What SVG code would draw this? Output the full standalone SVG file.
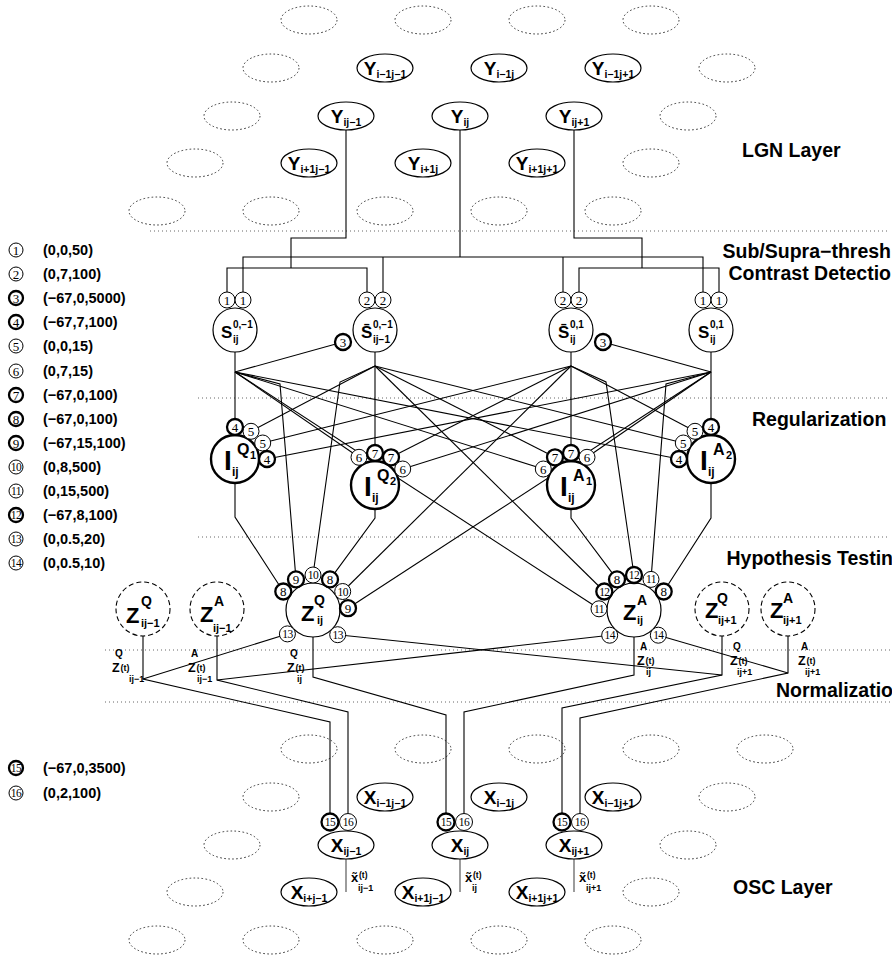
<svg xmlns="http://www.w3.org/2000/svg" width="892" height="958" viewBox="0 0 892 958">
<style>
.ln{stroke:#000;stroke-width:1.1;fill:none}
.gl{stroke:#666;stroke-width:1.3;fill:none}
.sep{stroke:#666;stroke-width:1;stroke-dasharray:1 3;fill:none}
.dot{fill:none;stroke:#333;stroke-width:1;stroke-dasharray:1.6 2.4}
.el{fill:#fff;stroke:#000;stroke-width:1.2}
.nd{fill:#fff;stroke:#000;stroke-width:1.2}
.tk{fill:#fff;stroke:#000;stroke-width:2.4}
.ds{fill:#fff;stroke:#000;stroke-width:1.1;stroke-dasharray:5 3}
.c{fill:#fff;stroke:#000;stroke-width:1}
.ct{fill:#fff;stroke:#000;stroke-width:2.3}
.n{font-family:"Liberation Serif","Times New Roman",serif;font-size:13px;text-anchor:middle}
.n2{font-family:"Liberation Serif","Times New Roman",serif;font-size:11.5px;text-anchor:middle;letter-spacing:-0.6px}
.b{font-family:"Liberation Sans",Arial,Helvetica,sans-serif;font-weight:bold}
.t{font-family:"Liberation Sans",Arial,Helvetica,sans-serif;font-weight:bold;font-size:19.5px}
.lg{font-family:"Liberation Sans",Arial,Helvetica,sans-serif;font-weight:bold;font-size:14.5px}
.yl{font-family:"Liberation Sans",Arial,Helvetica,sans-serif;font-weight:bold;font-size:19px;text-anchor:middle}
</style>

<g id="separators">
<line class="sep" x1="150" y1="231" x2="890" y2="231"/>
<line class="sep" x1="198" y1="398" x2="890" y2="398"/>
<line class="sep" x1="198" y1="537" x2="890" y2="537"/>
<line class="sep" x1="105" y1="650" x2="890" y2="650"/>
<line class="sep" x1="105" y1="702" x2="890" y2="702"/>
</g>

<g id="background-cells">
<ellipse class="dot" cx="309" cy="20" rx="28" ry="14"/>
<ellipse class="dot" cx="423" cy="20" rx="28" ry="14"/>
<ellipse class="dot" cx="537" cy="20" rx="28" ry="14"/>
<ellipse class="dot" cx="651" cy="20" rx="28" ry="14"/>
<ellipse class="dot" cx="271" cy="68" rx="28" ry="14"/>
<ellipse class="dot" cx="727" cy="68" rx="28" ry="14"/>
<ellipse class="dot" cx="232" cy="116" rx="28" ry="14"/>
<ellipse class="dot" cx="688" cy="116" rx="28" ry="14"/>
<ellipse class="dot" cx="195" cy="163" rx="28" ry="14"/>
<ellipse class="dot" cx="651" cy="163" rx="28" ry="14"/>
<ellipse class="dot" cx="157" cy="211" rx="28" ry="14"/>
<ellipse class="dot" cx="271" cy="211" rx="28" ry="14"/>
<ellipse class="dot" cx="385" cy="211" rx="28" ry="14"/>
<ellipse class="dot" cx="499" cy="211" rx="28" ry="14"/>
<ellipse class="dot" cx="613" cy="211" rx="28" ry="14"/>
<ellipse class="dot" cx="309" cy="749" rx="28" ry="14"/>
<ellipse class="dot" cx="423" cy="749" rx="28" ry="14"/>
<ellipse class="dot" cx="537" cy="749" rx="28" ry="14"/>
<ellipse class="dot" cx="651" cy="749" rx="28" ry="14"/>
<ellipse class="dot" cx="765" cy="749" rx="28" ry="14"/>
<ellipse class="dot" cx="271" cy="797" rx="28" ry="14"/>
<ellipse class="dot" cx="727" cy="797" rx="28" ry="14"/>
<ellipse class="dot" cx="232" cy="845" rx="28" ry="14"/>
<ellipse class="dot" cx="688" cy="845" rx="28" ry="14"/>
<ellipse class="dot" cx="195" cy="892" rx="28" ry="14"/>
<ellipse class="dot" cx="651" cy="892" rx="28" ry="14"/>
<ellipse class="dot" cx="157" cy="940" rx="28" ry="14"/>
<ellipse class="dot" cx="271" cy="940" rx="28" ry="14"/>
<ellipse class="dot" cx="385" cy="940" rx="28" ry="14"/>
<ellipse class="dot" cx="499" cy="940" rx="28" ry="14"/>
<ellipse class="dot" cx="613" cy="940" rx="28" ry="14"/>
</g>

<g id="connectors">
<path class="ln" d="M346 130V238H291V268"/>
<path class="ln" d="M227 292V268H367V292"/>
<path class="ln" d="M460 130V257"/>
<path class="ln" d="M243 292V257H703V292"/>
<path class="ln" d="M383 257V292"/>
<path class="ln" d="M563 257V292"/>
<path class="ln" d="M574 130V238H642V268"/>
<path class="ln" d="M579 292V268H719V292"/>
<path class="ln" d="M235 352V427"/>
<path class="ln" d="M375 352V453"/>
<path class="ln" d="M571 352V453"/>
<path class="ln" d="M711 352V427"/>
<path class="ln" d="M235 372L343 342"/>
<path class="ln" d="M235 372L359 457.3"/>
<path class="ln" d="M235 372L543.3 469"/>
<path class="ln" d="M235 372L679 459"/>
<path class="ln" d="M235 372L280 384L296 579.4"/>
<path class="ln" d="M235 372L599 608.8"/>
<path class="ln" d="M375 366L251 431.3"/>
<path class="ln" d="M375 366L555 457.3"/>
<path class="ln" d="M375 366L683.3 443"/>
<path class="ln" d="M375 366L340 382L313 575"/>
<path class="ln" d="M375 366L604.3 591.5"/>
<path class="ln" d="M571 366L695 431.3"/>
<path class="ln" d="M571 366L391 457.3"/>
<path class="ln" d="M571 366L262.7 443"/>
<path class="ln" d="M571 366L606 382L634 575"/>
<path class="ln" d="M571 366L342.7 591.5"/>
<path class="ln" d="M711 372L603 342"/>
<path class="ln" d="M711 372L587 457.3"/>
<path class="ln" d="M711 372L402.7 469"/>
<path class="ln" d="M711 372L267 459"/>
<path class="ln" d="M711 372L666 384L651 579.4"/>
<path class="ln" d="M711 372L348 608.2"/>
<path class="ln" d="M235 483V517L283.3 591.5"/>
<path class="ln" d="M375 509V518L330 579.4"/>
<path class="ln" d="M571 509V518L617 579.4"/>
<path class="ln" d="M711 483V518L663.7 591.5"/>
<path class="ln" d="M143 636V679L330 722V813"/>
<path class="ln" d="M143 679L287.4 633.9"/>
<path class="ln" d="M217 636V680L348 712V813"/>
<path class="ln" d="M217 680L609.7 635.2"/>
<path class="ln" d="M313 637V677L446 715V813"/>
<path class="ln" d="M634 637V675L464 712V813"/>
<path class="ln" d="M722 636V675L562 708V813"/>
<path class="ln" d="M722 675L337.7 634.7"/>
<path class="ln" d="M788 636V673L580 718V813"/>
<path class="ln" d="M788 673L658.3 635.2"/>
<path class="gl" d="M346 859V892"/>
<path class="gl" d="M460 859V892"/>
<path class="gl" d="M574 859V892"/>
</g>

<g id="Y_i-1j-1"><ellipse class="el" cx="385" cy="68" rx="28" ry="14"/><text class="yl" x="385" y="75">Y<tspan font-size="10.5" dy="3">i−1j−1</tspan></text></g>
<g id="Y_i-1j"><ellipse class="el" cx="499" cy="68" rx="28" ry="14"/><text class="yl" x="499" y="75">Y<tspan font-size="10.5" dy="3">i−1j</tspan></text></g>
<g id="Y_i-1j+1"><ellipse class="el" cx="613" cy="68" rx="28" ry="14"/><text class="yl" x="613" y="75">Y<tspan font-size="10.5" dy="3">i−1j+1</tspan></text></g>
<g id="Y_ij-1"><ellipse class="el" cx="346" cy="116" rx="28" ry="14"/><text class="yl" x="346" y="123">Y<tspan font-size="10.5" dy="3">ij−1</tspan></text></g>
<g id="Y_ij"><ellipse class="el" cx="460" cy="116" rx="28" ry="14"/><text class="yl" x="460" y="123">Y<tspan font-size="10.5" dy="3">ij</tspan></text></g>
<g id="Y_ij+1"><ellipse class="el" cx="574" cy="116" rx="28" ry="14"/><text class="yl" x="574" y="123">Y<tspan font-size="10.5" dy="3">ij+1</tspan></text></g>
<g id="Y_i+1j-1"><ellipse class="el" cx="309" cy="163" rx="28" ry="14"/><text class="yl" x="309" y="170">Y<tspan font-size="10.5" dy="3">i+1j−1</tspan></text></g>
<g id="Y_i+1j"><ellipse class="el" cx="423" cy="163" rx="28" ry="14"/><text class="yl" x="423" y="170">Y<tspan font-size="10.5" dy="3">i+1j</tspan></text></g>
<g id="Y_i+1j+1"><ellipse class="el" cx="537" cy="163" rx="28" ry="14"/><text class="yl" x="537" y="170">Y<tspan font-size="10.5" dy="3">i+1j+1</tspan></text></g>

<g id="S_ij_0_-1">
<circle class="nd" cx="235" cy="330" r="22"/>
<circle class="c" cx="227" cy="300" r="8"/><text class="n" x="227" y="304.5">1</text>
<circle class="c" cx="243" cy="300" r="8"/><text class="n" x="243" y="304.5">1</text>
<text class="b" x="221" y="338" font-size="17">S</text><text class="b" x="233" y="328" font-size="10">0,−1</text><text class="b" x="233" y="343" font-size="10">ij</text>
</g>
<g id="Sbar_ij-1_0_-1">
<circle class="nd" cx="375" cy="330" r="22"/>
<circle class="c" cx="367" cy="300" r="8"/><text class="n" x="367" y="304.5">2</text>
<circle class="c" cx="383" cy="300" r="8"/><text class="n" x="383" y="304.5">2</text>
<circle class="ct" cx="343" cy="342" r="8"/><text class="n" x="343" y="346.5">3</text>
<text class="b" x="361" y="338" font-size="17">S̄</text><text class="b" x="373" y="328" font-size="10">0,−1</text><text class="b" x="373" y="343" font-size="10">ij−1</text>
</g>
<g id="Sbar_ij_0_1">
<circle class="nd" cx="571" cy="330" r="22"/>
<circle class="c" cx="563" cy="300" r="8"/><text class="n" x="563" y="304.5">2</text>
<circle class="c" cx="579" cy="300" r="8"/><text class="n" x="579" y="304.5">2</text>
<circle class="ct" cx="603" cy="342" r="8"/><text class="n" x="603" y="346.5">3</text>
<text class="b" x="558" y="338" font-size="17">S̄</text><text class="b" x="570" y="328" font-size="10">0,1</text><text class="b" x="570" y="343" font-size="10">ij</text>
</g>
<g id="S_ij_0_1">
<circle class="nd" cx="711" cy="330" r="22"/>
<circle class="c" cx="703" cy="300" r="8"/><text class="n" x="703" y="304.5">1</text>
<circle class="c" cx="719" cy="300" r="8"/><text class="n" x="719" y="304.5">1</text>
<text class="b" x="698" y="338" font-size="17">S</text><text class="b" x="710" y="328" font-size="10">0,1</text><text class="b" x="710" y="343" font-size="10">ij</text>
</g>

<g id="I_Q1">
<circle class="tk" cx="235" cy="459" r="24"/>
<circle class="ct" cx="235" cy="427" r="8"/><text class="n" x="235" y="431.5">4</text>
<circle class="c" cx="251" cy="431.3" r="8"/><text class="n" x="251" y="435.8">5</text>
<circle class="c" cx="262.7" cy="443" r="8"/><text class="n" x="262.7" y="447.5">5</text>
<circle class="ct" cx="267" cy="459" r="8"/><text class="n" x="267" y="463.5">4</text>
<text class="b" x="224" y="470" font-size="28">I</text><text class="b" x="237" y="455" font-size="16">Q</text><text class="b" x="250" y="459" font-size="11">1</text><text class="b" x="232" y="476" font-size="12">ij</text>
</g>
<g id="I_Q2">
<circle class="tk" cx="375" cy="485" r="24"/>
<circle class="c" cx="359" cy="457.3" r="8"/><text class="n" x="359" y="461.8">6</text>
<circle class="ct" cx="375" cy="453" r="8"/><text class="n" x="375" y="457.5">7</text>
<circle class="ct" cx="391" cy="457.3" r="8"/><text class="n" x="391" y="461.8">7</text>
<circle class="c" cx="402.7" cy="469" r="8"/><text class="n" x="402.7" y="473.5">6</text>
<text class="b" x="364" y="496" font-size="28">I</text><text class="b" x="377" y="481" font-size="16">Q</text><text class="b" x="390" y="485" font-size="11">2</text><text class="b" x="372" y="502" font-size="12">ij</text>
</g>
<g id="I_A1">
<circle class="tk" cx="571" cy="485" r="24"/>
<circle class="c" cx="543.3" cy="469" r="8"/><text class="n" x="543.3" y="473.5">6</text>
<circle class="ct" cx="555" cy="457.3" r="8"/><text class="n" x="555" y="461.8">7</text>
<circle class="ct" cx="571" cy="453" r="8"/><text class="n" x="571" y="457.5">7</text>
<circle class="c" cx="587" cy="457.3" r="8"/><text class="n" x="587" y="461.8">6</text>
<text class="b" x="560" y="496" font-size="28">I</text><text class="b" x="573" y="481" font-size="16">A</text><text class="b" x="586" y="485" font-size="11">1</text><text class="b" x="568" y="502" font-size="12">ij</text>
</g>
<g id="I_A2">
<circle class="tk" cx="711" cy="459" r="24"/>
<circle class="ct" cx="711" cy="427" r="8"/><text class="n" x="711" y="431.5">4</text>
<circle class="c" cx="695" cy="431.3" r="8"/><text class="n" x="695" y="435.8">5</text>
<circle class="c" cx="683.3" cy="443" r="8"/><text class="n" x="683.3" y="447.5">5</text>
<circle class="ct" cx="679" cy="459" r="8"/><text class="n" x="679" y="463.5">4</text>
<text class="b" x="700" y="470" font-size="28">I</text><text class="b" x="713" y="455" font-size="16">A</text><text class="b" x="726" y="459" font-size="11">2</text><text class="b" x="708" y="476" font-size="12">ij</text>
</g>

<g id="Z_Q_ij-1"><circle class="ds" cx="143" cy="609" r="27"/><text class="b" x="126" y="623" font-size="22">Z</text><text class="b" x="141" y="606" font-size="14">Q</text><text class="b" x="141" y="627" font-size="11">ij−1</text></g>
<g id="Z_A_ij-1"><circle class="ds" cx="217" cy="609" r="27"/><text class="b" x="200" y="622" font-size="22">Z</text><text class="b" x="214" y="606" font-size="14">A</text><text class="b" x="213" y="632" font-size="11">ij−1</text></g>
<g id="Z_Q_ij">
<circle class="nd" cx="313" cy="610" r="27"/>
<circle class="ct" cx="283.3" cy="591.5" r="8"/><text class="n" x="283.3" y="596">8</text>
<circle class="ct" cx="296" cy="579.4" r="8"/><text class="n" x="296" y="583.9">9</text>
<circle class="c" cx="313" cy="575" r="8"/><text class="n2" x="313" y="579">10</text>
<circle class="ct" cx="330" cy="579.4" r="8"/><text class="n" x="330" y="583.9">8</text>
<circle class="c" cx="342.7" cy="591.5" r="8"/><text class="n2" x="342.7" y="595.5">10</text>
<circle class="ct" cx="348" cy="608.2" r="8"/><text class="n" x="348" y="612.7">9</text>
<circle class="c" cx="287.4" cy="633.9" r="8"/><text class="n2" x="287.4" y="637.9">13</text>
<circle class="c" cx="337.7" cy="634.7" r="8"/><text class="n2" x="337.7" y="638.7">13</text>
<text class="b" x="301" y="621" font-size="22">Z</text><text class="b" x="314" y="605" font-size="14">Q</text><text class="b" x="317" y="624" font-size="11">ij</text>
</g>
<g id="Z_A_ij">
<circle class="nd" cx="634" cy="610" r="27"/>
<circle class="c" cx="599" cy="608.8" r="8"/><text class="n2" x="599" y="612.8">11</text>
<circle class="ct" cx="604.3" cy="591.5" r="8"/><text class="n2" x="604.3" y="595.5">12</text>
<circle class="ct" cx="617" cy="579.4" r="8"/><text class="n" x="617" y="583.9">8</text>
<circle class="ct" cx="634" cy="575" r="8"/><text class="n2" x="634" y="579">12</text>
<circle class="c" cx="651" cy="579.4" r="8"/><text class="n2" x="651" y="583.4">11</text>
<circle class="ct" cx="663.7" cy="591.5" r="8"/><text class="n" x="663.7" y="596">8</text>
<circle class="c" cx="609.7" cy="635.2" r="8"/><text class="n2" x="609.7" y="639.2">14</text>
<circle class="c" cx="658.3" cy="635.2" r="8"/><text class="n2" x="658.3" y="639.2">14</text>
<text class="b" x="623" y="620" font-size="22">Z</text><text class="b" x="637" y="605" font-size="14">A</text><text class="b" x="637" y="624" font-size="11">ij</text>
</g>
<g id="Z_Q_ij+1"><circle class="ds" cx="722" cy="609" r="27"/><text class="b" x="705" y="618" font-size="22">Z</text><text class="b" x="717" y="603" font-size="14">Q</text><text class="b" x="718" y="624" font-size="11">ij+1</text></g>
<g id="Z_A_ij+1"><circle class="ds" cx="788" cy="609" r="27"/><text class="b" x="770" y="618" font-size="22">Z</text><text class="b" x="783" y="603" font-size="14">A</text><text class="b" x="783" y="624" font-size="11">ij+1</text></g>

<g id="z-t-labels" class="b">
<text x="115" y="657" font-size="10">Q</text><text x="112" y="672" font-size="12.5">Z</text><text x="120.5" y="671" font-size="9">(t)</text><text x="129" y="682" font-size="9">ij−1</text>
<text x="191" y="657" font-size="10">A</text><text x="188" y="672" font-size="12.5">Z</text><text x="196.5" y="671" font-size="9">(t)</text><text x="197" y="682" font-size="9">ij−1</text>
<text x="290" y="657" font-size="10">Q</text><text x="287" y="672" font-size="12.5">Z</text><text x="295.5" y="671" font-size="9">(t)</text><text x="297" y="682" font-size="9">ij</text>
<text x="640" y="650" font-size="10">A</text><text x="637" y="665" font-size="12.5">Z</text><text x="645.5" y="664" font-size="9">(t)</text><text x="646" y="675" font-size="9">ij</text>
<text x="733" y="650" font-size="10">Q</text><text x="730" y="665" font-size="12.5">Z</text><text x="738.5" y="664" font-size="9">(t)</text><text x="737" y="675" font-size="9">ij+1</text>
<text x="801" y="650" font-size="10">A</text><text x="798" y="665" font-size="12.5">Z</text><text x="806.5" y="664" font-size="9">(t)</text><text x="805" y="675" font-size="9">ij+1</text>
</g>

<g id="X_i-1j-1"><ellipse class="el" cx="385" cy="797" rx="28" ry="14"/><text class="yl" x="385" y="804">X<tspan font-size="10.5" dy="3">i−1j−1</tspan></text></g>
<g id="X_i-1j"><ellipse class="el" cx="499" cy="797" rx="28" ry="14"/><text class="yl" x="499" y="804">X<tspan font-size="10.5" dy="3">i−1j</tspan></text></g>
<g id="X_i-1j+1"><ellipse class="el" cx="613" cy="797" rx="28" ry="14"/><text class="yl" x="613" y="804">X<tspan font-size="10.5" dy="3">i−1j+1</tspan></text></g>
<g id="X_ij-1">
<ellipse class="el" cx="346" cy="845" rx="28" ry="14"/><text class="yl" x="346" y="852">X<tspan font-size="10.5" dy="3">ij−1</tspan></text>
<circle class="ct" cx="330" cy="822" r="8.5"/><text class="n2" x="330" y="826">15</text>
<circle class="c" cx="348" cy="822" r="8.5"/><text class="n2" x="348" y="826">16</text>
</g>
<g id="X_ij">
<ellipse class="el" cx="460" cy="845" rx="28" ry="14"/><text class="yl" x="460" y="852">X<tspan font-size="10.5" dy="3">ij</tspan></text>
<circle class="ct" cx="446" cy="822" r="8.5"/><text class="n2" x="446" y="826">15</text>
<circle class="c" cx="464" cy="822" r="8.5"/><text class="n2" x="464" y="826">16</text>
</g>
<g id="X_ij+1">
<ellipse class="el" cx="574" cy="845" rx="28" ry="14"/><text class="yl" x="574" y="852">X<tspan font-size="10.5" dy="3">ij+1</tspan></text>
<circle class="ct" cx="562" cy="822" r="8.5"/><text class="n2" x="562" y="826">15</text>
<circle class="c" cx="580" cy="822" r="8.5"/><text class="n2" x="580" y="826">16</text>
</g>
<g id="X_i+j-1"><ellipse class="el" cx="309" cy="892" rx="28" ry="14"/><text class="yl" x="309" y="899">X<tspan font-size="10.5" dy="3">i+j−1</tspan></text></g>
<g id="X_i+1j-1"><ellipse class="el" cx="423" cy="892" rx="28" ry="14"/><text class="yl" x="423" y="899">X<tspan font-size="10.5" dy="3">i+1j−1</tspan></text></g>
<g id="X_i+1j+1"><ellipse class="el" cx="537" cy="892" rx="28" ry="14"/><text class="yl" x="537" y="899">X<tspan font-size="10.5" dy="3">i+1j+1</tspan></text></g>

<g id="x-tilde-labels" class="b">
<text x="351" y="882" font-size="13">x̃</text><text x="359" y="878" font-size="8.5">(t)</text><text x="358" y="891" font-size="9">ij−1</text>
<text x="465" y="882" font-size="13">x̃</text><text x="473" y="878" font-size="8.5">(t)</text><text x="472" y="891" font-size="9">ij</text>
<text x="579" y="882" font-size="13">x̃</text><text x="587" y="878" font-size="8.5">(t)</text><text x="586" y="891" font-size="9">ij+1</text>
</g>

<g id="layer-labels" class="t">
<text x="742" y="157">LGN Layer</text>
<text x="891" y="258" text-anchor="end">Sub/Supra−thresh</text>
<text x="891" y="280" text-anchor="end">Contrast Detectio</text>
<text x="752" y="426">Regularization</text>
<text x="893" y="565" text-anchor="end">Hypothesis Testin</text>
<text x="893" y="697" text-anchor="end">Normalizatio</text>
<text x="733" y="894">OSC Layer</text>
</g>

<g id="legend">
<circle class="c" cx="16" cy="250" r="7"/><text class="n" x="16" y="254.5">1</text><text class="lg" x="43" y="255">(0,0,50)</text>
<circle class="c" cx="16" cy="274" r="7"/><text class="n" x="16" y="278.5">2</text><text class="lg" x="43" y="279">(0,7,100)</text>
<circle class="ct" cx="16" cy="298" r="7"/><text class="n" x="16" y="302.5">3</text><text class="lg" x="43" y="303">(−67,0,5000)</text>
<circle class="ct" cx="16" cy="322" r="7"/><text class="n" x="16" y="326.5">4</text><text class="lg" x="43" y="327">(−67,7,100)</text>
<circle class="c" cx="16" cy="346" r="7"/><text class="n" x="16" y="350.5">5</text><text class="lg" x="43" y="351">(0,0,15)</text>
<circle class="c" cx="16" cy="371" r="7"/><text class="n" x="16" y="375.5">6</text><text class="lg" x="43" y="376">(0,7,15)</text>
<circle class="ct" cx="16" cy="395" r="7"/><text class="n" x="16" y="399.5">7</text><text class="lg" x="43" y="400">(−67,0,100)</text>
<circle class="ct" cx="16" cy="419" r="7"/><text class="n" x="16" y="423.5">8</text><text class="lg" x="43" y="424">(−67,0,100)</text>
<circle class="ct" cx="16" cy="443" r="7"/><text class="n" x="16" y="447.5">9</text><text class="lg" x="43" y="448">(−67,15,100)</text>
<circle class="c" cx="16" cy="467" r="7"/><text class="n2" x="16" y="471">10</text><text class="lg" x="43" y="472">(0,8,500)</text>
<circle class="c" cx="16" cy="491" r="7"/><text class="n2" x="16" y="495">11</text><text class="lg" x="43" y="496">(0,15,500)</text>
<circle class="ct" cx="16" cy="515" r="7"/><text class="n2" x="16" y="519">12</text><text class="lg" x="43" y="520">(−67,8,100)</text>
<circle class="c" cx="16" cy="539" r="7"/><text class="n2" x="16" y="543">13</text><text class="lg" x="43" y="544">(0,0.5,20)</text>
<circle class="c" cx="16" cy="563" r="7"/><text class="n2" x="16" y="567">14</text><text class="lg" x="43" y="568">(0,0.5,10)</text>
<circle class="ct" cx="16" cy="768" r="7"/><text class="n2" x="16" y="772">15</text><text class="lg" x="43" y="773">(−67,0,3500)</text>
<circle class="c" cx="16" cy="793" r="7"/><text class="n2" x="16" y="797">16</text><text class="lg" x="43" y="798">(0,2,100)</text>
</g>
</svg>
